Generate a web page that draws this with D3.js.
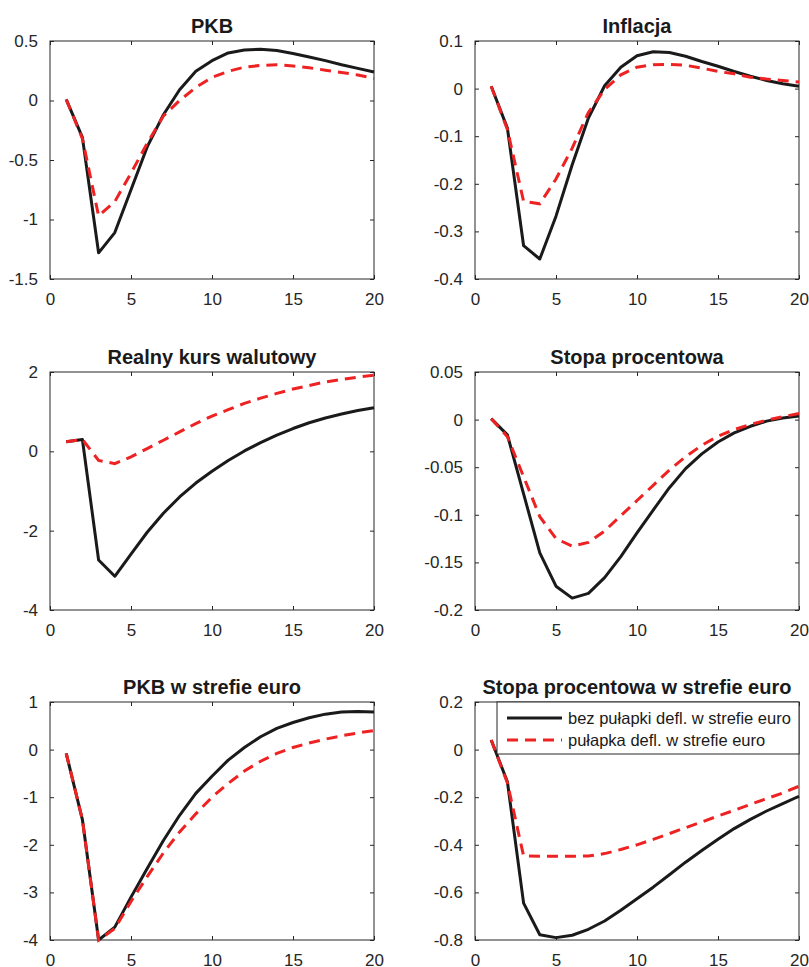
<!DOCTYPE html>
<html>
<head>
<meta charset="utf-8">
<script src="https://cdn.jsdelivr.net/npm/d3@7"></script>
<style>
  body { margin: 0; background: #fff; }
  svg text { font-family: "Liberation Sans", Arial, Helvetica, sans-serif; }
  .tick text { fill: #262626; font-size: 17px; }
  .tick line { stroke: #262626; }
  .title { font-size: 20px; font-weight: bold; fill: #1a1a1a; }
  .legend-label { font-size: 16.5px; fill: #1a1a1a; }
</style>
</head>
<body>
<div id="chart"></div>
<script>
// horizon (quarters)
const periods = d3.range(1, 21);
const xTicks = [0, 5, 10, 15, 20];

// PKB
const pkbNoTrap   = [0.01, -0.31, -1.28, -1.11, -0.75, -0.39, -0.12, 0.09, 0.245, 0.335, 0.40, 0.425, 0.43, 0.42, 0.395, 0.365, 0.335, 0.30, 0.27, 0.24];
const pkbTrap     = [0.01, -0.32, -0.97, -0.85, -0.61, -0.36, -0.13, 0.0, 0.11, 0.195, 0.245, 0.28, 0.295, 0.30, 0.29, 0.275, 0.255, 0.235, 0.215, 0.185];
const pkbTicks    = [0.5, 0, -0.5, -1, -1.5];

// Inflacja
const infNoTrap   = [0.005, -0.083, -0.33, -0.358, -0.268, -0.16, -0.062, 0.006, 0.045, 0.069, 0.0775, 0.076, 0.068, 0.057, 0.047, 0.036, 0.026, 0.017, 0.010, 0.005];
const infTrap     = [0.005, -0.086, -0.237, -0.242, -0.19, -0.125, -0.05, -0.002, 0.029, 0.045, 0.05, 0.051, 0.049, 0.043, 0.036, 0.031, 0.024, 0.020, 0.017, 0.014];
const infTicks    = [0.1, 0, -0.1, -0.2, -0.3, -0.4];

// Realny kurs walutowy
const rerNoTrap   = [0.24, 0.30, -2.74, -3.15, -2.59, -2.04, -1.56, -1.15, -0.80, -0.50, -0.23, 0.01, 0.22, 0.41, 0.575, 0.72, 0.84, 0.94, 1.03, 1.10];
const rerTrap     = [0.24, 0.30, -0.23, -0.31, -0.14, 0.07, 0.28, 0.49, 0.70, 0.89, 1.05, 1.21, 1.34, 1.46, 1.57, 1.66, 1.75, 1.81, 1.87, 1.92];
const rerTicks    = [2, 0, -2, -4];

// Stopa procentowa
const rateNoTrap  = [0.001, -0.016, -0.078, -0.14, -0.175, -0.1875, -0.1825, -0.166, -0.144, -0.119, -0.095, -0.0715, -0.0515, -0.036, -0.0235, -0.014, -0.007, -0.0016, 0.0016, 0.0037];
const rateTrap    = [0.001, -0.018, -0.06, -0.102, -0.125, -0.133, -0.129, -0.117, -0.101, -0.085, -0.069, -0.053, -0.039, -0.027, -0.0175, -0.0105, -0.005, -0.0006, 0.003, 0.0065];
const rateTicks   = [0.05, 0, -0.05, -0.1, -0.15, -0.2];

// PKB w strefie euro
const euGdpNoTrap = [-0.08, -1.47, -4.0, -3.73, -3.10, -2.50, -1.91, -1.38, -0.92, -0.56, -0.22, 0.045, 0.27, 0.445, 0.57, 0.67, 0.745, 0.79, 0.80, 0.79];
const euGdpTrap   = [-0.08, -1.47, -4.0, -3.76, -3.19, -2.67, -2.17, -1.73, -1.35, -1.00, -0.71, -0.45, -0.245, -0.08, 0.045, 0.14, 0.22, 0.29, 0.35, 0.40];
const euGdpTicks  = [1, 0, -1, -2, -3, -4];

// Stopa procentowa w strefie euro
const euRateNoTrap = [0.04, -0.135, -0.645, -0.778, -0.79, -0.78, -0.755, -0.72, -0.675, -0.627, -0.578, -0.526, -0.473, -0.424, -0.377, -0.332, -0.293, -0.258, -0.227, -0.196];
const euRateTrap   = [0.04, -0.14, -0.447, -0.448, -0.448, -0.448, -0.447, -0.437, -0.42, -0.40, -0.377, -0.353, -0.328, -0.304, -0.279, -0.255, -0.23, -0.206, -0.182, -0.154];
const euRateTicks  = [0.2, 0, -0.2, -0.4, -0.6, -0.8];

const seriesNames = ['bez pułapki defl. w strefie euro', 'pułapka defl. w strefie euro'];

const panels = [
  {title: 'PKB', a: pkbNoTrap, b: pkbTrap, ticks: pkbTicks, col: 0, row: 0},
  {title: 'Inflacja', a: infNoTrap, b: infTrap, ticks: infTicks, col: 1, row: 0},
  {title: 'Realny kurs walutowy', a: rerNoTrap, b: rerTrap, ticks: rerTicks, col: 0, row: 1},
  {title: 'Stopa procentowa', a: rateNoTrap, b: rateTrap, ticks: rateTicks, col: 1, row: 1},
  {title: 'PKB w strefie euro', a: euGdpNoTrap, b: euGdpTrap, ticks: euGdpTicks, col: 0, row: 2},
  {title: 'Stopa procentowa w strefie euro', a: euRateNoTrap, b: euRateTrap, ticks: euRateTicks, col: 1, row: 2, legend: true}
];

const colLeft = [50, 475];
const rowTop = [41, 372, 702];
const plotW = 324, plotH = 238;
const red = '#ee2222', black = '#1a1a1a';

const svg = d3.select('#chart').append('svg')
    .attr('width', 809)
    .attr('height', 967);

panels.forEach(p => {
    const g = svg.append('g')
        .attr('transform', `translate(${colLeft[p.col]},${rowTop[p.row]})`);

    const x = d3.scaleLinear().domain([0, 20]).range([0, plotW]);
    const y = d3.scaleLinear().domain(d3.extent(p.ticks)).range([plotH, 0]);

    const fmt = d => String(d);

    // axes, ticks pointing inwards on all four sides (matlab box)
    g.append('g').attr('transform', `translate(0,${plotH})`)
        .call(d3.axisBottom(x).tickValues(xTicks).tickSizeInner(-4).tickSizeOuter(0).tickPadding(14).tickFormat(fmt));
    g.append('g')
        .call(d3.axisTop(x).tickValues(xTicks).tickSizeInner(-4).tickSizeOuter(0).tickFormat(''));
    g.append('g')
        .call(d3.axisLeft(y).tickValues(p.ticks).tickSizeInner(-4).tickSizeOuter(0).tickPadding(12).tickFormat(fmt));
    g.append('g').attr('transform', `translate(${plotW},0)`)
        .call(d3.axisRight(y).tickValues(p.ticks).tickSizeInner(-4).tickSizeOuter(0).tickFormat(''));
    g.selectAll('.domain').remove();

    g.append('rect')
        .attr('width', plotW).attr('height', plotH)
        .attr('fill', 'none').attr('stroke', '#262626').attr('stroke-width', 1);

    const line = d3.line()
        .x((d, i) => x(periods[i]))
        .y(d => y(d));

    g.append('path').datum(p.a)
        .attr('d', line)
        .attr('fill', 'none').attr('stroke', black).attr('stroke-width', 3)
        .attr('stroke-linejoin', 'round');
    g.append('path').datum(p.b)
        .attr('d', line)
        .attr('fill', 'none').attr('stroke', red).attr('stroke-width', 3)
        .attr('stroke-dasharray', '11,7');

    g.append('text')
        .attr('class', 'title')
        .attr('x', plotW / 2).attr('y', -8)
        .attr('text-anchor', 'middle')
        .text(p.title);

    if (p.legend) {
        const lg = g.append('g').attr('transform', 'translate(22,0)');
        lg.append('rect')
            .attr('width', plotW - 22).attr('height', 52)
            .attr('fill', '#fff').attr('stroke', '#262626').attr('stroke-width', 1);
        [[black, null], [red, '11,7']].forEach(([c, dash], i) => {
            const yy = 16 + i * 22;
            lg.append('line')
                .attr('x1', 10).attr('x2', 65).attr('y1', yy).attr('y2', yy)
                .attr('stroke', c).attr('stroke-width', 3)
                .attr('stroke-dasharray', dash);
            lg.append('text')
                .attr('class', 'legend-label')
                .attr('x', 71).attr('y', yy + 6)
                .text(seriesNames[i]);
        });
    }
});
</script>
</body>
</html>
